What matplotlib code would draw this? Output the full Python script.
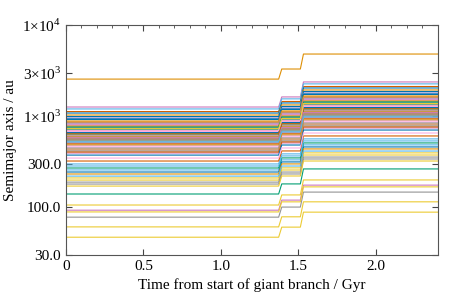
import numpy as np
import matplotlib
matplotlib.use('Agg')
import matplotlib.pyplot as plt
from matplotlib.ticker import FixedLocator, FixedFormatter, NullLocator, MultipleLocator

# semimajor axis at start of giant branch (au), one entry per planet
a_start = [
    607, 2550, 140, 1123, 1260, 575, 620, 78, 47, 1200,
    1082, 540, 740, 861, 93, 605, 930, 690, 61, 257,
    244, 1029, 653, 500, 799, 425, 470, 414, 106, 840,
    950, 232, 270, 704, 394, 520, 980, 759, 210, 299,
    990, 779, 722, 322, 669, 547, 458, 180, 89, 284,
    918, 590, 636, 404, 820, 482, 680, 447, 199, 220,
    374, 884, 720, 561, 507, 436, 347, 189, 171, 533,
    660, 494, 760, 640, 580, 850, 700, 560, 730, 520,
]
# time knots of the two mass-loss episodes (Gyr)
t_knots = [0.0, 1.372, 1.392, 1.512, 1.532, 2.4]
# expansion factor of the orbits after each episode
step_ratio = [1.29, 1.46]

palette = ['#0173b2', '#de8f05', '#029e73', '#d55e00', '#cc78bc',
           '#ca9161', '#fbafe4', '#949494', '#eccb33', '#56b4e9']

plt.rcParams['font.family'] = ['Liberation Serif', 'DejaVu Serif']
plt.rcParams['mathtext.fontset'] = 'custom'
plt.rcParams['mathtext.rm'] = 'Liberation Serif'
plt.rcParams['font.size'] = 11

fig = plt.figure(figsize=(4.63, 2.99), dpi=100)
ax = fig.add_axes([0.1425, 0.1472, 0.8035, 0.7692])

for i, a0 in enumerate(a_start):
    a1 = a0 * step_ratio[0]
    a2 = a1 * step_ratio[1]
    ax.plot(t_knots, [a0, a0, a1, a1, a2, a2], color=palette[i % 10],
            lw=0.8)

ax.set_yscale('log')
ax.set_xlim(0, 2.4)
ax.set_ylim(30, 1e4)
yt = [30, 100, 300, 1000, 3000, 10000]
ax.yaxis.set_major_locator(FixedLocator(yt))
ax.yaxis.set_major_formatter(FixedFormatter(['30.0', '100.0', '300.0',
    r'1$\times$10$^{3}$', r'3$\times$10$^{3}$', r'1$\times$10$^{4}$']))
ax.yaxis.set_minor_locator(NullLocator())
ax.set_xticks([0, 0.5, 1.0, 1.5, 2.0])
ax.set_xticklabels(['0', '0.5', '1.0', '1.5', '2.0'])
ax.xaxis.set_minor_locator(MultipleLocator(0.1))
ax.tick_params(which='both', direction='in', top=True, right=True,
               color='#444444')
ax.tick_params(which='major', length=4)
ax.tick_params(which='minor', length=2.5, bottom=False)
for s in ax.spines.values():
    s.set_color('#555555')

ax.set_xlabel('Time from start of giant branch / Gyr')
ax.set_ylabel('Semimajor axis / au')

fig.savefig('out.png', dpi=100)
